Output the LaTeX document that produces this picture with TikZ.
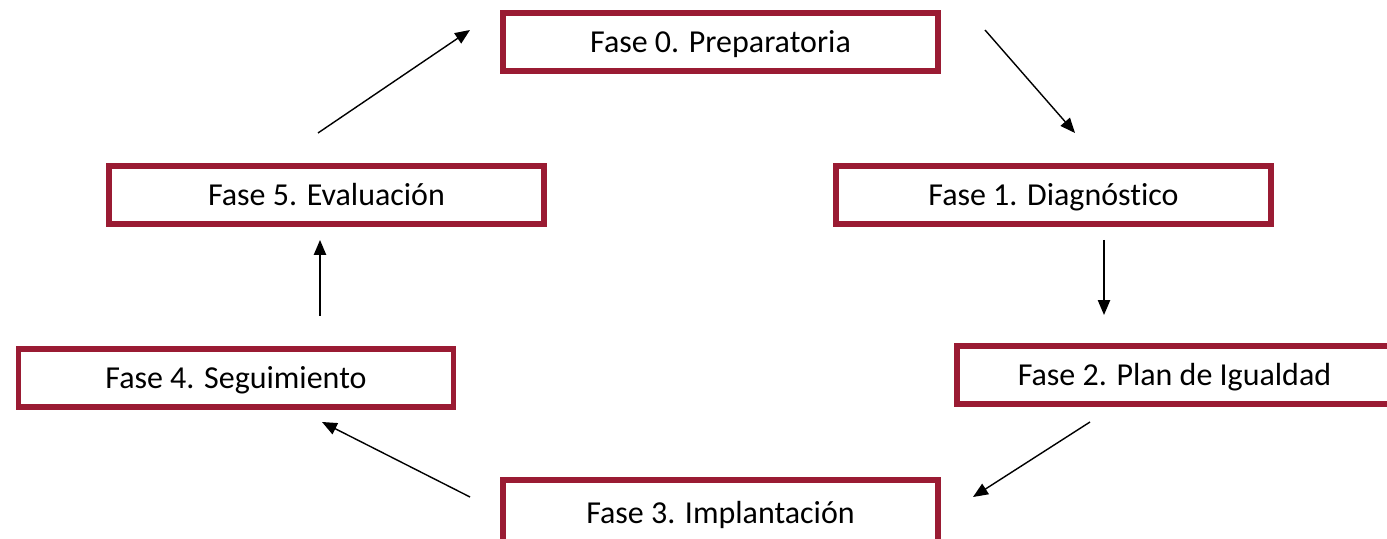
\documentclass[tikz,border=0pt]{standalone}
\usepackage{fontspec}
\setmainfont[Ligatures=NoCommon]{Carlito}
\usepackage{xcolor}
\usetikzlibrary{arrows.meta}

\definecolor{granate}{HTML}{9A1B33}

\tikzset{
  fase/.style={draw=granate, line width=3.4pt, fill=white, minimum width=8.7cm,
    minimum height=1.16cm, inner sep=0pt, text height=0.44cm, text depth=0cm,
    font=\fontsize{18.2}{21}\selectfont},
  flecha/.style={-{Triangle[length=8.5pt,width=7pt]}, line width=0.8pt}
}

\begin{document}
\begin{tikzpicture}
\useasboundingbox (0,0) rectangle (27.74,-10.78);

% Fases
\node[fase] (fase0) at (14.41,-0.84) {Fase 0. Preparatoria};
\node[fase] (fase1) at (21.07,-3.9) {Fase 1. Diagnóstico};
\node[fase] (fase2) at (23.49,-7.5) {Fase 2. Plan de Igualdad};
\node[fase, minimum height=1.3cm] (fase3) at (14.41,-10.25) {Fase 3. Implantación};
\node[fase] (fase4) at (4.72,-7.56) {Fase 4. Seguimiento};
\node[fase] (fase5) at (6.53,-3.9) {Fase 5. Evaluación};

% Extremos de las flechas
\coordinate (a0) at (19.70,-0.60);
\coordinate (a1) at (21.50,-2.66);
\coordinate (b1) at (22.08,-4.80);
\coordinate (b2) at (22.08,-6.30);
\coordinate (c2) at (21.80,-8.44);
\coordinate (c3) at (19.46,-9.94);
\coordinate (d3) at (9.40,-9.94);
\coordinate (d4) at (6.44,-8.44);
\coordinate (e4) at (6.40,-6.32);
\coordinate (e5) at (6.40,-4.80);
\coordinate (f5) at (6.36,-2.66);
\coordinate (f0) at (9.40,-0.60);

% Flechas
\draw[flecha] (a0) -- (a1);
\draw[flecha] (b1) -- (b2);
\draw[flecha] (c2) -- (c3);
\draw[flecha] (d3) -- (d4);
\draw[flecha] (e4) -- (e5);
\draw[flecha] (f5) -- (f0);
\end{tikzpicture}
\end{document}
